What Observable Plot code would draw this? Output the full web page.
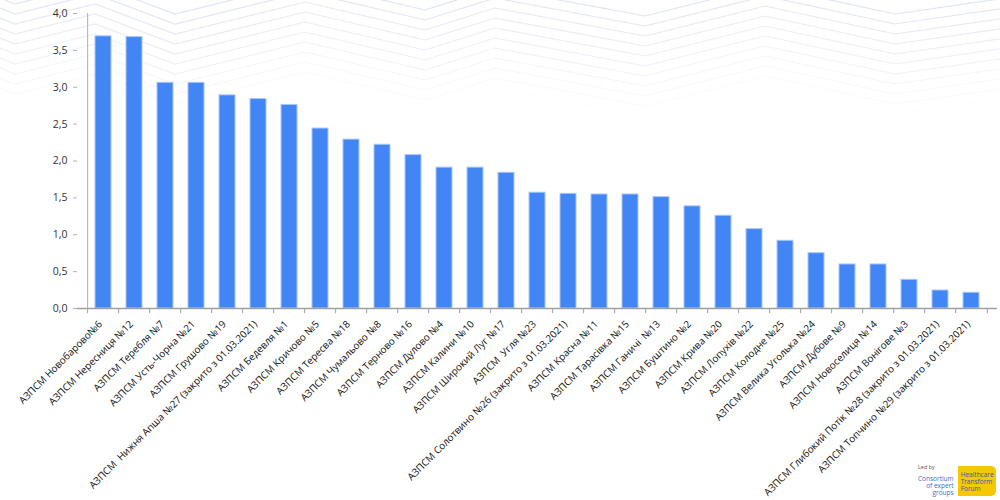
<!DOCTYPE html>
<html>
<head>
<meta charset="utf-8">
<script src="https://cdn.jsdelivr.net/npm/d3@7"></script>
<script src="https://cdn.jsdelivr.net/npm/@observablehq/plot@0.6"></script>
<style>
  html, body { margin: 0; padding: 0; background: #fff; }
  body { width: 1000px; height: 500px; position: relative; overflow: hidden; font-family: "Open Sans", sans-serif; }
  #bg { position: absolute; left: 0; top: 0; width: 1000px; height: 130px; }
  #chart { position: absolute; left: 0; top: 0; }
  .logos { position: absolute; left: 918px; top: 464px; display: flex; align-items: flex-end; gap: 4px; font-family: "Open Sans", sans-serif; }
  .ceg { font-size: 6.5px; line-height: 7px; color: #3a6fc4; text-align: right; }
  .ceg .led { color: #555; font-size: 5.5px; margin-bottom: 4px; text-align: left; }
  .htf { background: #f5c800; color: #2f5fa8; font-size: 6.5px; line-height: 7px; padding: 5px 8px 4px 3px; border-radius: 0 5px 5px 0; width: 27px; height: 21px; }
</style>
</head>
<body>
<svg id="bg" viewBox="0 0 1000 130"></svg>
<div id="chart"></div>
<div class="logos">
  <div class="ceg"><div class="led">Led by</div>Consortium<br>of expert<br>groups</div>
  <div class="htf">Healthcare<br>Transform<br>Forum</div>
</div>
<script>
const categories = [
  "АЗПСМ Новобарово№6",
  "АЗПСМ Нересниця №12",
  "АЗПСМ Теребля №7",
  "АЗПСМ Усть-Чорна №21",
  "АЗПСМ Грушово №19",
  "АЗПСМ  Нижня Апша №27 (закрито з 01.03.2021)",
  "АЗПСМ Бедевля №1",
  "АЗПСМ Кричово №5",
  "АЗПСМ Тересва №18",
  "АЗПСМ Чумальово №8",
  "АЗПСМ Терново №16",
  "АЗПСМ Дулово №4",
  "АЗПСМ Калини №10",
  "АЗПСМ Широкий Луг №17",
  "АЗПСМ  Угля №23",
  "АЗПСМ Солотвино №26 (закрито з 01.03.2021)",
  "АЗПСМ Красна №11",
  "АЗПСМ Тарасівка №15",
  "АЗПСМ Ганичі  №13",
  "АЗПСМ Буштино №2",
  "АЗПСМ Крива №20",
  "АЗПСМ Лопухів №22",
  "АЗПСМ Колодне №25",
  "АЗПСМ Велика Уголька №24",
  "АЗПСМ Дубове №9",
  "АЗПСМ Новоселиця №14",
  "АЗПСМ Вонігове №3",
  "АЗПСМ Глибокий Потік №28 (закрито з 01.03.2021)",
  "АЗПСМ Топчино №29 (закрито з 01.03.2021)"
];
const values = [3.69, 3.68, 3.06, 3.06, 2.89, 2.84, 2.76, 2.44, 2.29, 2.22,
  2.08, 1.91, 1.91, 1.84, 1.57, 1.555, 1.546, 1.546, 1.51, 1.385,
  1.257, 1.076, 0.918, 0.75, 0.597, 0.597, 0.389, 0.244, 0.213];
const yTicks = [0, 0.5, 1, 1.5, 2, 2.5, 3, 3.5, 4];

// faint decorative chevron background
(function () {
  const svg = d3.select("#bg");
  const vx = [-20, 15, 95, 175, 305, 425, 495, 645, 765, 895, 1020];
  const vy = [0, 14, -6, 24, -8, 20, -2, 26, -4, 24, 6];
  for (let k = 0; k < 11; k++) {
    const pts = vx.map((x, i) => [x, vy[i] + k * 10 - 10]);
    svg.append("polyline")
      .attr("points", pts.map(p => p.join(",")).join(" "))
      .attr("fill", "none")
      .attr("stroke", "#dfe5f2")
      .attr("stroke-width", 1.2)
      .attr("opacity", Math.max(0, 1 - k / 11));
  }
})();

const data = categories.map((c, i) => ({cat: c, value: values[i]}));

const W = 1000, H = 500;
const mL = 77, mR = 3, mT = 13, mB = 192;
const step = (W - mL - mR) / categories.length;
const fmt = d => d.toFixed(1).replace(".", ",");

const chart = Plot.plot({
  width: W,
  height: H,
  marginLeft: mL,
  marginRight: mR,
  marginTop: mT,
  marginBottom: mB,
  style: {fontFamily: "Open Sans, sans-serif", fontSize: "10px", color: "#222", background: "transparent"},
  x: {domain: categories, paddingInner: 0.5, paddingOuter: 0.25, label: null},
  y: {domain: [0, 4], label: null},
  marks: [
    Plot.barY(data, {x: "cat", y: "value", fill: "#4285f4", stroke: "#a9c6f7", strokeWidth: 1}),
    Plot.ruleX([categories[0]], {x: d => d, y1: 0, y2: 4, dx: -step / 2, stroke: "#b0b0b0"}),
    Plot.ruleY([0], {stroke: "#a0a0a0", strokeWidth: 1.5}),
    Plot.ruleX(categories, {x: d => d, y1: 0, y2: -0.07, dx: -step / 2, stroke: "#a0a0a0"}),
    Plot.ruleX([categories[categories.length - 1]], {x: d => d, y1: 0, y2: -0.07, dx: step / 2, stroke: "#a0a0a0"}),
    Plot.axisY({ticks: yTicks, tickFormat: fmt, tickSize: 4, tickPadding: 6, stroke: "#b0b0b0", fill: "#333", fontSize: 10.5, label: null}),
    Plot.axisX({tickSize: 0, tickPadding: 8, tickRotate: -45, fill: "#111", fontSize: 10, dx: -3, dy: 6, label: null})
  ]
});
document.getElementById("chart").appendChild(chart);

// fit label font so the long label spans roughly as in the reference
(function () {
  const texts = chart.querySelectorAll('g[aria-label="x-axis tick label"] text');
  if (texts.length > 5) {
    const len = texts[5].getComputedTextLength();
    if (len > 0) {
      const fs = Math.max(9, Math.min(11.5, 10 * 233 / len));
      texts[5].parentNode.setAttribute("font-size", fs.toFixed(2));
    }
  }
})();
</script>
</body>
</html>
